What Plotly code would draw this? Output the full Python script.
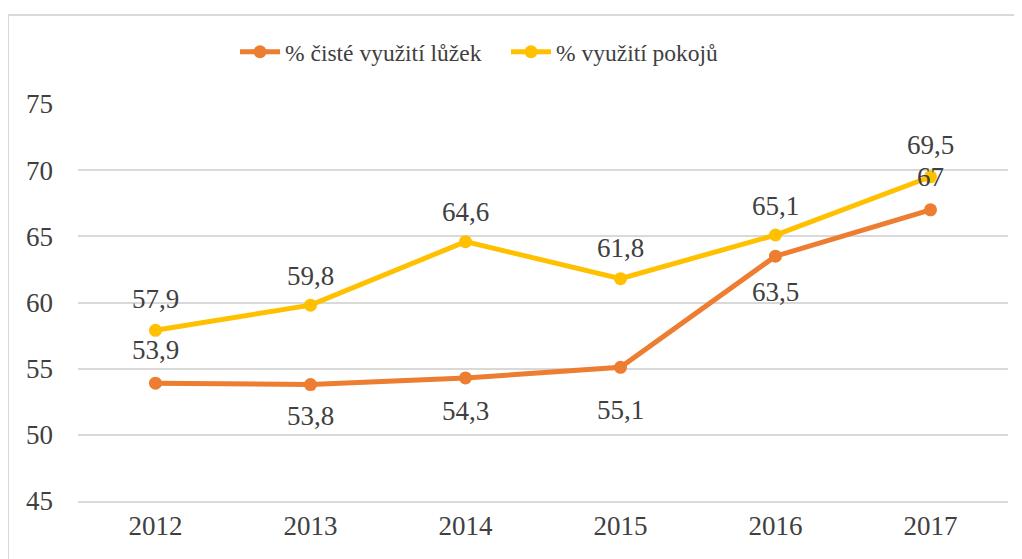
import plotly.graph_objects as go

years = [2012, 2013, 2014, 2015, 2016, 2017]
lozka = [53.9, 53.8, 54.3, 55.1, 63.5, 67.0]
pokoje = [57.9, 59.8, 64.6, 61.8, 65.1, 69.5]
lozka_labels = ["53,9", "53,8", "54,3", "55,1", "63,5", "67"]
pokoje_labels = ["57,9", "59,8", "64,6", "61,8", "65,1", "69,5"]
y_ticks = [45, 50, 55, 60, 65, 70, 75]

# label pixel offsets (style, not data)
lozka_shift = [33, -31, -33, -43, -36, 33]
pokoje_shift = [31, 29, 30, 31, 29, 32]

ORANGE = "#ED7D31"
YELLOW = "#FFC000"
TEXT = "#404040"
GRID = "#D9D9D9"
FONT = "Liberation Serif"

# page offset of 8px (body margin) compensated
W, H = 1014, 551
L, R = 70, 1000   # plot area x (figure px)
T, B = 96, 493    # plot area y (figure px)

fig = go.Figure()
fig.add_trace(go.Scatter(x=years, y=lozka, mode="lines+markers", name="% čisté využití lůžek",
                         line=dict(color=ORANGE, width=5), marker=dict(size=13, color=ORANGE)))
fig.add_trace(go.Scatter(x=years, y=pokoje, mode="lines+markers", name="% využití pokojů",
                         line=dict(color=YELLOW, width=5), marker=dict(size=13, color=YELLOW)))

annotations = []
for ys, labs, shifts in [(lozka, lozka_labels, lozka_shift),
                         (pokoje, pokoje_labels, pokoje_shift)]:
    for xv, yv, lab, sh in zip(years, ys, labs, shifts):
        annotations.append(dict(x=xv, y=yv, xref="x", yref="y", text=lab, showarrow=False,
                                yshift=sh, xanchor="center", yanchor="middle",
                                font=dict(family=FONT, size=27, color=TEXT)))

fig.add_shape(type="rect", xref="paper", yref="paper",
              x0=(0 - L) / (R - L), x1=1.2, y0=-0.5, y1=(B - 7) / (B - T),
              line=dict(color=GRID, width=2), fillcolor="rgba(0,0,0,0)", layer="below")

fig.update_layout(
    width=W, height=H,
    margin=dict(l=L, r=W - R, t=T, b=H - B),
    paper_bgcolor="white", plot_bgcolor="white",
    font=dict(family=FONT, size=27, color=TEXT),
    annotations=annotations,
    legend=dict(orientation="h", x=(498 - L) / (R - L), y=(B - 44) / (B - T),
                xanchor="center", yanchor="middle", itemwidth=40, entrywidth=216,
                font=dict(family=FONT, size=23.5, color=TEXT)),
    xaxis=dict(range=[2011.5, 2017.5], tickvals=years, tickformat="d", showgrid=False,
               zeroline=False, showline=True, linecolor=GRID, linewidth=1.5, ticks="",
               tickfont=dict(family=FONT, size=27, color=TEXT)),
    yaxis=dict(range=[45, 75], tickvals=y_ticks, showgrid=True, gridcolor=GRID,
               gridwidth=1.5, zeroline=False, showline=False, ticks="",
               ticklabelstandoff=24, tickfont=dict(family=FONT, size=27, color=TEXT)),
)

fig.write_html("out.html")
